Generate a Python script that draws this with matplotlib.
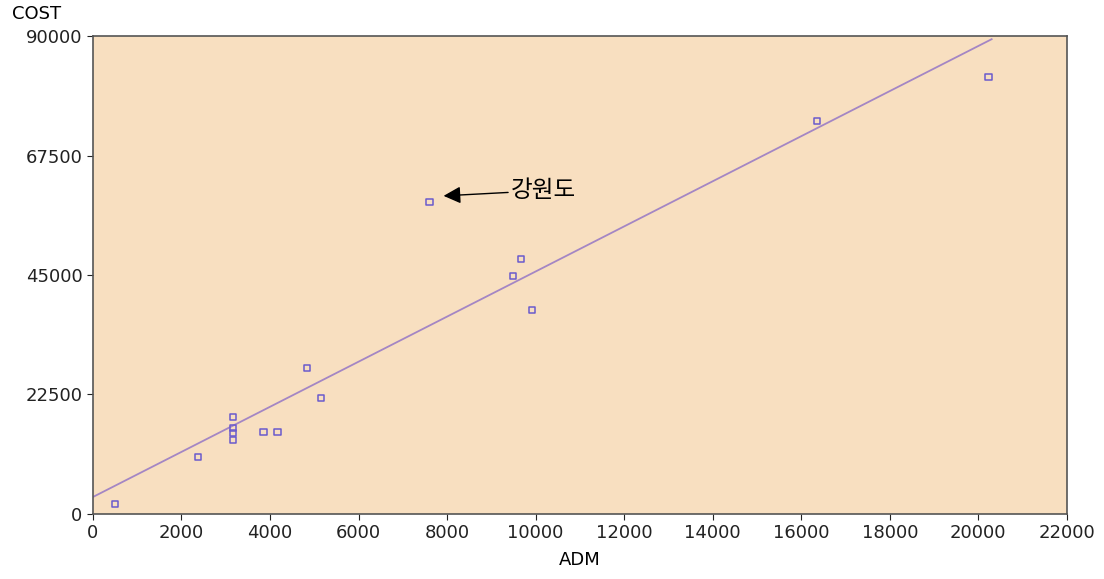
import matplotlib
matplotlib.use("Agg")
import matplotlib.pyplot as plt

# data
adm = [500, 2380, 3170, 3170, 3170, 3170, 3850, 4170, 4840, 5160,
       7600, 9480, 9670, 9910, 16360, 20230]
cost = [1900, 10700, 18300, 16200, 15200, 13900, 15400, 15400, 27500, 21800,
        58700, 44800, 48000, 38400, 74000, 82300]

fit_x = [0, 20300]
fit_y = [3200, 89400]

x_ticks = list(range(0, 22001, 2000))
y_ticks = [0, 22500, 45000, 67500, 90000]

plt.rcParams['font.family'] = ['DejaVu Sans']

fig = plt.figure(figsize=(11.04, 5.79), dpi=100)
ax = fig.add_axes([0.0842, 0.1123, 0.8822, 0.8255])
ax.set_facecolor('#f8dfc0')

ax.plot(fit_x, fit_y, color='#a486c4', lw=1.3, zorder=2)
ax.scatter(adm, cost, marker='s', s=20, facecolors='none',
           edgecolors='#6a5acd', linewidths=1.1, zorder=3)

ax.annotate('강원도', xy=(7920, 59900), xytext=(9440, 60900),
            fontsize=17, family=['Noto Sans CJK KR', 'DejaVu Sans'],
            va='center', ha='left',
            arrowprops=dict(arrowstyle='-|>', color='black', lw=1,
                            mutation_scale=26, shrinkA=0, shrinkB=0))

ax.set_xlim(0, 22000)
ax.set_ylim(0, 90000)
ax.set_xticks(x_ticks)
ax.set_yticks(y_ticks)
ax.tick_params(direction='out', length=4, labelsize=13, colors='#222222')
for s in ax.spines.values():
    s.set_color('#555555')
    s.set_linewidth(1.2)

ax.set_xlabel('ADM', fontsize=13, labelpad=6)
fig.text(0.011, 0.975, 'COST', fontsize=13, ha='left', va='center')

fig.savefig('out.png', dpi=100)
